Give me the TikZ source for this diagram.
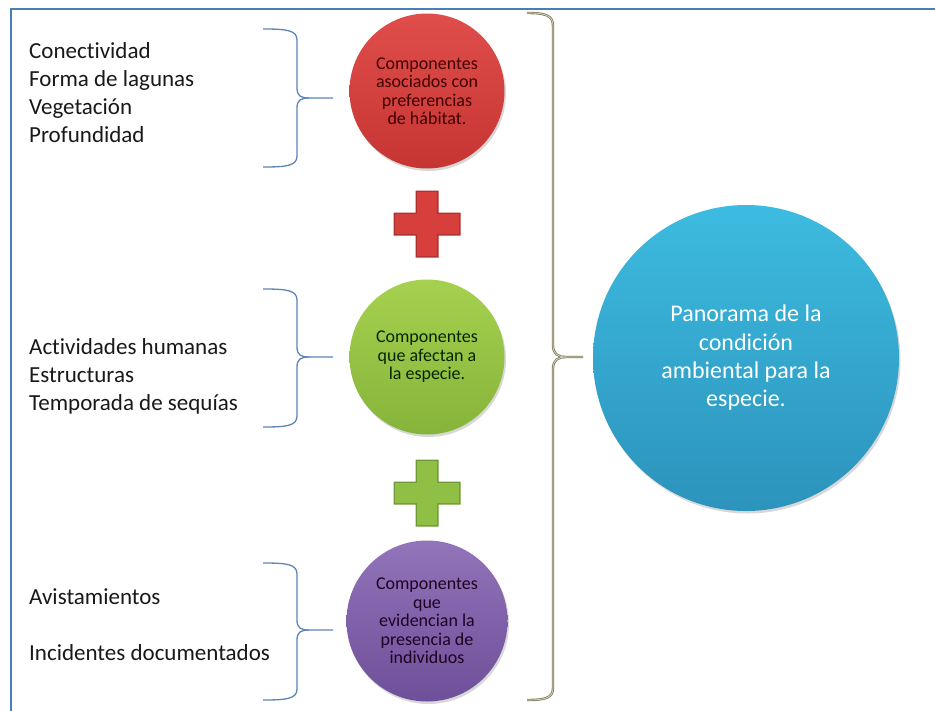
\documentclass[tikz,border=0pt]{standalone}
\usepackage{fontspec}
\setmainfont{Carlito}[Ligatures=NoCommon]
\usetikzlibrary{shadows}
\definecolor{framecol}{HTML}{4A7EBB}
\definecolor{bracecol}{HTML}{5F84B8}
\definecolor{bigbrace}{HTML}{847F5C}
\definecolor{redtop}{HTML}{E04E4B}
\definecolor{redbot}{HTML}{C63532}
\definecolor{redplus}{HTML}{D63F3C}
\definecolor{greentop}{HTML}{A6D14F}
\definecolor{greenbot}{HTML}{86B43A}
\definecolor{greenplus}{HTML}{8FBF45}
\definecolor{purptop}{HTML}{9274BA}
\definecolor{purpbot}{HTML}{6E4F99}
\definecolor{bluetop}{HTML}{3DBBE0}
\definecolor{bluebot}{HTML}{2C93BC}
\tikzset{
  listtext/.style={anchor=base west, align=left, inner sep=0pt,
     font=\fontsize{23}{28}\selectfont, text=black!90},
  ball/.style={circle, inner sep=0pt, align=center,
     drop shadow={shadow xshift=1.5pt, shadow yshift=-2.5pt, opacity=0.3}},
  smalltext/.style={font=\fontsize{18}{18.5}\selectfont},
  bracestyle/.style={draw=bracecol, line width=1.3pt},
  plussign/.pic={
    \fill[#1!80!black] (-11.5,-33.5) -- (11.5,-33.5) -- (11.5,-11.5) -- (33.5,-11.5) -- (33.5,11.5) -- (11.5,11.5) -- (11.5,33.5) -- (-11.5,33.5) -- (-11.5,11.5) -- (-33.5,11.5) -- (-33.5,-11.5) -- (-11.5,-11.5) -- cycle;
    \fill[#1] (-10,-32) -- (10,-32) -- (10,-10) -- (32,-10) -- (32,10) -- (10,10) -- (10,32) -- (-10,32) -- (-10,10) -- (-32,10) -- (-32,-10) -- (-10,-10) -- cycle;
  }
}
\newcommand\mybrace[3]{% top, tip, bottom
  \draw[bracestyle] (263,#1) .. controls (286,#1) and (297,#1+1) .. (297,#1+11)
     -- (297,#2-10) .. controls (297,#2-2) and (301,#2) .. (309,#2) -- (333,#2);
  \draw[bracestyle] (309,#2) .. controls (301,#2) and (297,#2+2) .. (297,#2+10)
     -- (297,#3-11) .. controls (297,#3-1) and (286,#3) .. (263,#3);
}
\begin{document}
\begin{tikzpicture}[x=1pt,y=-1pt]
\useasboundingbox (0,0) rectangle (935,710);
\fill[white] (0,0) rectangle (935,710);
% frame
\draw[framecol, line width=2pt] (10.5,711) -- (10.5,8.5) -- (936,8.5);

% lists (anchor at baseline of last line)
\node[listtext] (l1) at (29,142) {Conectividad\\Forma de lagunas\\Vegetación\\Profundidad};
\node[listtext] (l2) at (29,410) {Actividades humanas\\Estructuras\\Temporada de sequías};
\node[listtext] (l3) at (29,660) {Avistamientos\\[28pt]Incidentes documentados};

% small braces
\mybrace{29}{98}{167}
\mybrace{289}{357}{427}
\mybrace{563}{630}{700}

% circles
\node[ball, minimum size=155pt, top color=redtop, bottom color=redbot, text=red!25!black, smalltext] (c1) at (427,91)
  {Componentes\\asociados con\\preferencias\\de hábitat.};
\node[ball, minimum size=155pt, top color=greentop, bottom color=greenbot, text=green!15!black, smalltext] (c2) at (427,357)
  {Componentes\\que afectan a\\la especie.};
\node[ball, minimum size=161pt, top color=purptop, bottom color=purpbot, text=violet!25!black, smalltext] (c3) at (427,621)
  {Componentes\\que\\evidencian la\\presencia de\\individuos};

% plus signs
\pic at (427,224) {plussign=redplus};
\pic at (427,493) {plussign=greenplus};

% big brace
\coordinate (bt) at (527,13);
\coordinate (tip) at (583,357);
\coordinate (bb) at (527,700);
\draw[bigbrace, line width=2.4pt] (bt) .. controls (545,13) and (553,15) .. (553,26)
   -- (553,345) .. controls (553,354) and (558,357) .. (566,357) -- (tip);
\draw[bigbrace, line width=2.4pt] (566,357) .. controls (558,357) and (553,360) .. (553,369)
   -- (553,688) .. controls (553,698) and (545,700) .. (bb);
\draw[white!70!bigbrace, line width=0.7pt] (bt) .. controls (545,13) and (553,15) .. (553,26)
   -- (553,345) .. controls (553,354) and (558,357) .. (566,357) -- (tip);
\draw[white!70!bigbrace, line width=0.7pt] (566,357) .. controls (558,357) and (553,360) .. (553,369)
   -- (553,688) .. controls (553,698) and (545,700) .. (bb);

% big circle
\node[ball, minimum size=306pt, top color=bluetop, bottom color=bluebot, text=white,
      font=\fontsize{24}{28.3}\selectfont] (c4) at (746,358)
  {Panorama de la\\condición\\ambiental para la\\especie.};
\end{tikzpicture}
\end{document}
